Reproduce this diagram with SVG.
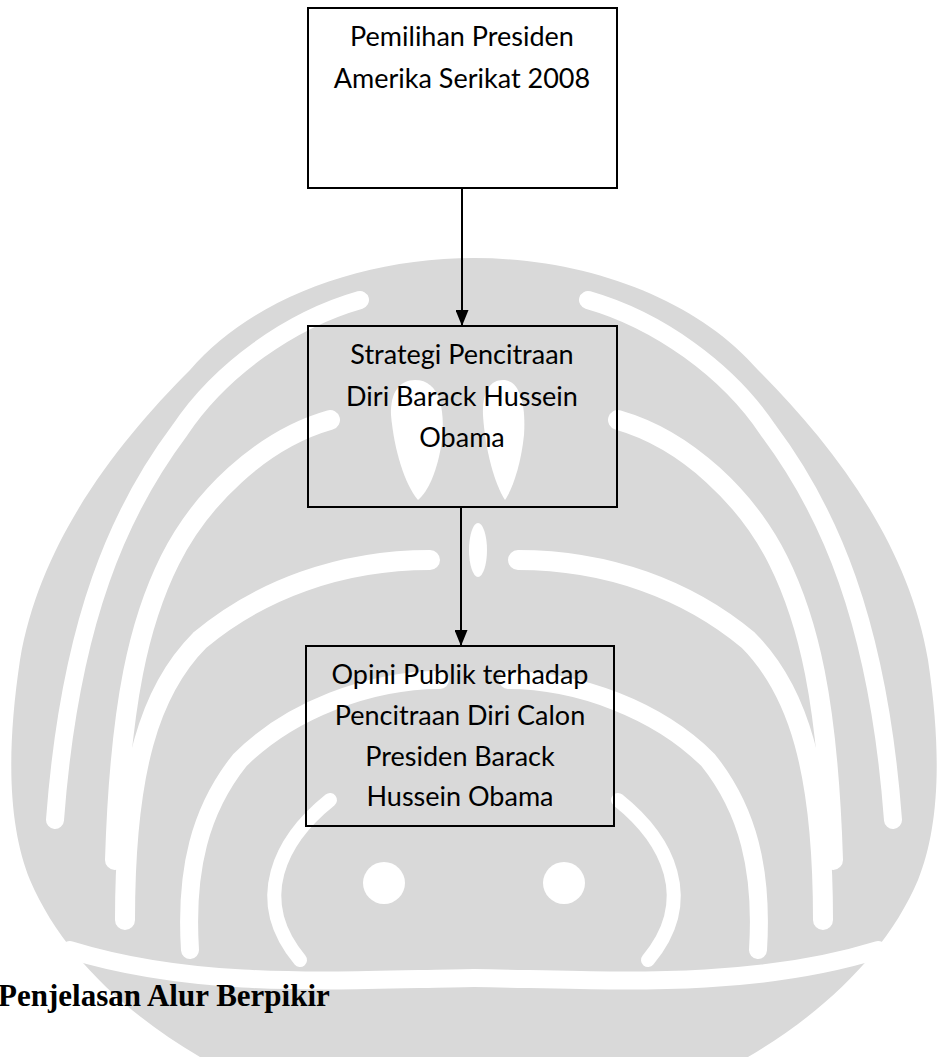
<svg xmlns="http://www.w3.org/2000/svg" width="941" height="1057" viewBox="0 0 941 1057">
<style>
.box{fill:none;stroke:#000;stroke-width:2}
.t{font-family:Lato,"Open Sans",sans-serif;font-size:27px;fill:#000;text-anchor:middle}
.h{font-family:"Liberation Serif","Times New Roman",serif;font-size:31px;font-weight:bold;fill:#000}
.con{stroke:#000;stroke-width:2;fill:none}
.wm{fill:#d9d9d9}
.gap{fill:none;stroke:#fff;stroke-linecap:round}
.hole{fill:#fff}
</style>
<defs>
<marker id="arr" markerWidth="16" markerHeight="13" refX="16" refY="6.5" orient="auto" markerUnits="userSpaceOnUse">
<path d="M0,0 L16,6.5 L0,13 Z" fill="#000"/>
</marker>
<g id="half">
<path class="wm" d="M474,258 C360,258 250,300 190,370 C120,440 40,540 20,660 C5,760 10,830 30,880 C60,950 120,1010 200,1057 L474,1057 Z"/>
<path class="gap" stroke-width="18" d="M360,300 C290,320 220,370 180,430 C120,510 70,620 55,820"/>
<path class="gap" stroke-width="20" d="M330,420 C260,440 200,500 170,560 C140,620 120,700 115,860"/>
<path class="gap" stroke-width="20" d="M430,560 C340,560 260,590 200,640 C150,690 125,770 125,920"/>
<path class="gap" stroke-width="18" d="M440,680 C370,680 290,710 240,760 C200,810 185,870 190,950"/>
<path class="gap" stroke-width="14" d="M300,960 C250,900 280,840 330,800"/>
<circle class="hole" cx="384" cy="883" r="21"/>
<path class="gap" stroke-width="18" d="M70,950 C200,990 340,980 474,978"/>
</g>
</defs>
<g id="watermark">
<use href="#half"/>
<use href="#half" transform="translate(948,0) scale(-1,1)"/>
<path class="hole" d="M415,380 C440,380 445,410 442,440 C438,470 428,492 418,500 C405,485 394,450 391,415 C390,392 400,380 415,380 Z"/>
<path class="hole" d="M503,380 C520,380 526,405 524,435 C521,465 512,490 505,500 C495,485 485,450 483,415 C482,392 490,380 503,380 Z"/>
<ellipse class="hole" cx="478" cy="550" rx="9" ry="27"/>
</g>
<g id="connectors">
<line class="con" x1="462" y1="188" x2="462" y2="326" marker-end="url(#arr)"/>
<line class="con" x1="461" y1="507" x2="461" y2="646" marker-end="url(#arr)"/>
</g>
<g id="node-pemilihan">
<rect class="box" x="308" y="8" width="309" height="180"/>
<text class="t" x="462" y="46">Pemilihan Presiden</text>
<text class="t" x="462" y="88">Amerika Serikat 2008</text>
</g>
<g id="node-strategi">
<rect class="box" x="308" y="326" width="309" height="181"/>
<text class="t" x="462" y="364">Strategi Pencitraan</text>
<text class="t" x="462" y="406">Diri Barack Hussein</text>
<text class="t" x="462" y="447">Obama</text>
</g>
<g id="node-opini">
<rect class="box" x="306" y="646" width="308" height="180"/>
<text class="t" x="460" y="684">Opini Publik terhadap</text>
<text class="t" x="460" y="725">Pencitraan Diri Calon</text>
<text class="t" x="460" y="766">Presiden Barack</text>
<text class="t" x="460" y="806">Hussein Obama</text>
</g>
<g id="heading">
<text class="h" x="-2" y="1006">Penjelasan Alur Berpikir</text>
</g>
</svg>
